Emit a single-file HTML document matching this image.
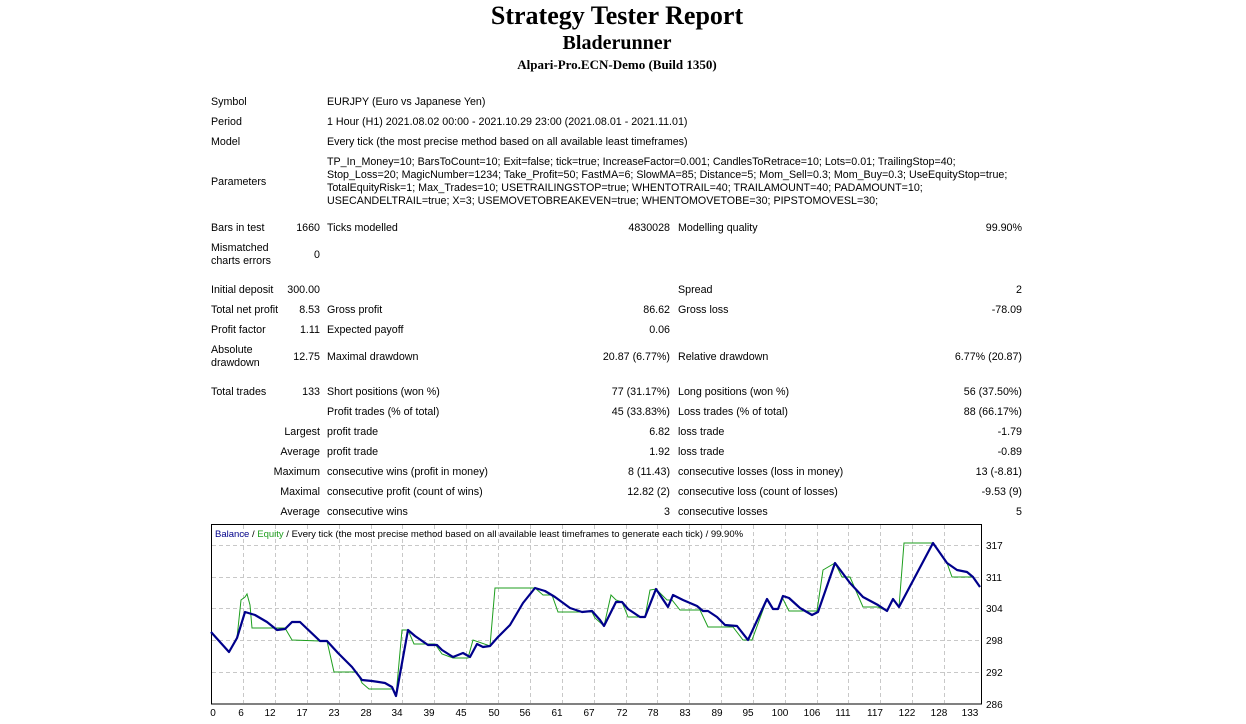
<!DOCTYPE html>
<html><head><meta charset="utf-8"><style>
body{margin:0;width:1246px;height:724px;background:#fff;position:relative;overflow:hidden;font-family:"Liberation Sans",sans-serif;font-size:10.7px;color:#000}
#w{position:absolute;left:0;top:2px;width:1246px;height:520px}
.t{position:absolute;white-space:nowrap;line-height:13px}
.r{position:absolute;white-space:nowrap;line-height:13px;text-align:right}
.h{position:absolute;left:0;width:1234px;text-align:center;font-family:"Liberation Serif",serif;font-weight:bold;white-space:nowrap}
</style></head><body>
<div class="h" style="top:1px;font-size:26px;line-height:30px">Strategy Tester Report</div>
<div class="h" style="top:32px;font-size:20px;line-height:22px">Bladerunner</div>
<div class="h" style="top:57px;font-size:13px;line-height:15px">Alpari-Pro.ECN-Demo (Build 1350)</div>
<div id="w">
<div class="t" style="left:211px;top:94px">Symbol</div>
<div class="t" style="left:327px;top:94px">EURJPY (Euro vs Japanese Yen)</div>
<div class="t" style="left:211px;top:114px">Period</div>
<div class="t" style="left:327px;top:114px">1 Hour (H1) 2021.08.02 00:00 - 2021.10.29 23:00 (2021.08.01 - 2021.11.01)</div>
<div class="t" style="left:211px;top:134px">Model</div>
<div class="t" style="left:327px;top:134px">Every tick (the most precise method based on all available least timeframes)</div>
<div class="t" style="left:211px;top:174px">Parameters</div>
<div class="t" style="left:327px;top:154px">TP_In_Money=10; BarsToCount=10; Exit=false; tick=true; IncreaseFactor=0.001; CandlesToRetrace=10; Lots=0.01; TrailingStop=40;</div>
<div class="t" style="left:327px;top:167px">Stop_Loss=20; MagicNumber=1234; Take_Profit=50; FastMA=6; SlowMA=85; Distance=5; Mom_Sell=0.3; Mom_Buy=0.3; UseEquityStop=true;</div>
<div class="t" style="left:327px;top:180px">TotalEquityRisk=1; Max_Trades=10; USETRAILINGSTOP=true; WHENTOTRAIL=40; TRAILAMOUNT=40; PADAMOUNT=10;</div>
<div class="t" style="left:327px;top:193px">USECANDELTRAIL=true; X=3; USEMOVETOBREAKEVEN=true; WHENTOMOVETOBE=30; PIPSTOMOVESL=30;</div>

<div class="t" style="left:211px;top:220px">Bars in test</div><div class="r" style="right:926px;top:220px">1660</div>
<div class="t" style="left:327px;top:220px">Ticks modelled</div><div class="r" style="right:576px;top:220px">4830028</div>
<div class="t" style="left:678px;top:220px">Modelling quality</div><div class="r" style="right:224px;top:220px">99.90%</div>

<div class="t" style="left:211px;top:240px">Mismatched<br>charts errors</div><div class="r" style="right:926px;top:247px">0</div>

<div class="t" style="left:211px;top:282px">Initial deposit</div><div class="r" style="right:926px;top:282px">300.00</div>
<div class="t" style="left:678px;top:282px">Spread</div><div class="r" style="right:224px;top:282px">2</div>

<div class="t" style="left:211px;top:302px">Total net profit</div><div class="r" style="right:926px;top:302px">8.53</div>
<div class="t" style="left:327px;top:302px">Gross profit</div><div class="r" style="right:576px;top:302px">86.62</div>
<div class="t" style="left:678px;top:302px">Gross loss</div><div class="r" style="right:224px;top:302px">-78.09</div>

<div class="t" style="left:211px;top:322px">Profit factor</div><div class="r" style="right:926px;top:322px">1.11</div>
<div class="t" style="left:327px;top:322px">Expected payoff</div><div class="r" style="right:576px;top:322px">0.06</div>

<div class="t" style="left:211px;top:342px">Absolute<br>drawdown</div><div class="r" style="right:926px;top:349px">12.75</div>
<div class="t" style="left:327px;top:349px">Maximal drawdown</div><div class="r" style="right:576px;top:349px">20.87 (6.77%)</div>
<div class="t" style="left:678px;top:349px">Relative drawdown</div><div class="r" style="right:224px;top:349px">6.77% (20.87)</div>

<div class="t" style="left:211px;top:384px">Total trades</div><div class="r" style="right:926px;top:384px">133</div>
<div class="t" style="left:327px;top:384px">Short positions (won %)</div><div class="r" style="right:576px;top:384px">77 (31.17%)</div>
<div class="t" style="left:678px;top:384px">Long positions (won %)</div><div class="r" style="right:224px;top:384px">56 (37.50%)</div>

<div class="t" style="left:327px;top:404px">Profit trades (% of total)</div><div class="r" style="right:576px;top:404px">45 (33.83%)</div>
<div class="t" style="left:678px;top:404px">Loss trades (% of total)</div><div class="r" style="right:224px;top:404px">88 (66.17%)</div>

<div class="r" style="right:926px;top:424px">Largest</div>
<div class="t" style="left:327px;top:424px">profit trade</div><div class="r" style="right:576px;top:424px">6.82</div>
<div class="t" style="left:678px;top:424px">loss trade</div><div class="r" style="right:224px;top:424px">-1.79</div>

<div class="r" style="right:926px;top:444px">Average</div>
<div class="t" style="left:327px;top:444px">profit trade</div><div class="r" style="right:576px;top:444px">1.92</div>
<div class="t" style="left:678px;top:444px">loss trade</div><div class="r" style="right:224px;top:444px">-0.89</div>

<div class="r" style="right:926px;top:464px">Maximum</div>
<div class="t" style="left:327px;top:464px">consecutive wins (profit in money)</div><div class="r" style="right:576px;top:464px">8 (11.43)</div>
<div class="t" style="left:678px;top:464px">consecutive losses (loss in money)</div><div class="r" style="right:224px;top:464px">13 (-8.81)</div>

<div class="r" style="right:926px;top:484px">Maximal</div>
<div class="t" style="left:327px;top:484px">consecutive profit (count of wins)</div><div class="r" style="right:576px;top:484px">12.82 (2)</div>
<div class="t" style="left:678px;top:484px">consecutive loss (count of losses)</div><div class="r" style="right:224px;top:484px">-9.53 (9)</div>

<div class="r" style="right:926px;top:504px">Average</div>
<div class="t" style="left:327px;top:504px">consecutive wins</div><div class="r" style="right:576px;top:504px">3</div>
<div class="t" style="left:678px;top:504px">consecutive losses</div><div class="r" style="right:224px;top:504px">5</div>
</div>

<svg style="position:absolute;left:0;top:0" width="1246" height="724">
<g stroke="#c8c8c8" stroke-dasharray="4,3" stroke-width="1">
<line x1="212" y1="545.5" x2="981" y2="545.5"/><line x1="212" y1="577.5" x2="981" y2="577.5"/><line x1="212" y1="608.5" x2="981" y2="608.5"/><line x1="212" y1="640.5" x2="981" y2="640.5"/><line x1="212" y1="672.5" x2="981" y2="672.5"/>
<line x1="243.5" y1="525" x2="243.5" y2="703"/><line x1="275.5" y1="525" x2="275.5" y2="703"/><line x1="307.5" y1="525" x2="307.5" y2="703"/><line x1="339.5" y1="525" x2="339.5" y2="703"/><line x1="371.5" y1="525" x2="371.5" y2="703"/><line x1="402.5" y1="525" x2="402.5" y2="703"/><line x1="434.5" y1="525" x2="434.5" y2="703"/><line x1="466.5" y1="525" x2="466.5" y2="703"/><line x1="498.5" y1="525" x2="498.5" y2="703"/><line x1="530.5" y1="525" x2="530.5" y2="703"/><line x1="562.5" y1="525" x2="562.5" y2="703"/><line x1="594.5" y1="525" x2="594.5" y2="703"/><line x1="626.5" y1="525" x2="626.5" y2="703"/><line x1="657.5" y1="525" x2="657.5" y2="703"/><line x1="689.5" y1="525" x2="689.5" y2="703"/><line x1="721.5" y1="525" x2="721.5" y2="703"/><line x1="753.5" y1="525" x2="753.5" y2="703"/><line x1="785.5" y1="525" x2="785.5" y2="703"/><line x1="817.5" y1="525" x2="817.5" y2="703"/><line x1="848.5" y1="525" x2="848.5" y2="703"/><line x1="880.5" y1="525" x2="880.5" y2="703"/><line x1="912.5" y1="525" x2="912.5" y2="703"/><line x1="944.5" y1="525" x2="944.5" y2="703"/>
</g>
<rect x="211.5" y="524.5" width="770" height="179.5" fill="none" stroke="#000" stroke-width="1"/>
<polyline fill="none" stroke="#1e9e1e" stroke-width="1" points="211,633 218,640 229,652 237,638 241,600 245,597 247,594 250,605 252,628 285,628 292,640 320,641 327,641 334,672 357,672 362,683 369,689 393,689 396,696 402,630 408,630 414,644 435,644 442,654 453,658 468,658 473,640 490,646 495,588 535,588 543,595 552,595 558,612 592,612 595,618 604,626 611,595 616,600 622,602 628,617 645,617 650,590 656,589 667,600 672,600 680,610 700,610 708,627 733,627 743,640 752,640 767,599 773,609 778,609 782,597 789,611 817,611 823,570 835,563 842,577 850,577 863,607 878,607 887,611 893,599 899,607 904,543 933,543 947,563 952,577 973,577 980,587"/>
<polyline fill="none" stroke="#00008b" stroke-width="2.2" stroke-linejoin="round" points="211,632 229,652 237,638 245,612 255,615 267,622 277,630 285,629 292,622 300,622 320,641 327,641 338,653 352,667 362,680 372,681 385,683 392,687 396,696 408,630 415,636 428,645 437,645 442,650 453,657 463,653 470,657 477,644 483,647 490,646 498,637 510,625 523,603 535,588 545,591 555,597 570,608 582,612 592,611 600,620 604,626 616,602 622,602 628,609 640,617 645,617 656,589 668,607 673,595 683,600 697,606 703,611 708,611 717,617 725,625 737,626 748,640 767,599 773,609 778,609 783,596 789,598 800,608 812,615 818,612 835,563 850,583 863,597 878,605 887,611 893,599 899,607 933,543 947,563 957,570 967,572 973,577 980,587"/>
<g font-family="Liberation Sans, sans-serif" font-size="10" fill="#000">
<text x="986" y="549">317</text><text x="986" y="581">311</text><text x="986" y="612">304</text><text x="986" y="644">298</text><text x="986" y="676">292</text><text x="986" y="708">286</text>
<g text-anchor="middle">
<text x="213" y="716">0</text><text x="241" y="716">6</text><text x="270" y="716">12</text><text x="302" y="716">17</text><text x="334" y="716">23</text><text x="366" y="716">28</text><text x="397" y="716">34</text><text x="429" y="716">39</text><text x="461" y="716">45</text><text x="494" y="716">50</text><text x="525" y="716">56</text><text x="557" y="716">61</text><text x="589" y="716">67</text><text x="622" y="716">72</text><text x="653" y="716">78</text><text x="685" y="716">83</text><text x="717" y="716">89</text><text x="748" y="716">95</text><text x="780" y="716">100</text><text x="812" y="716">106</text><text x="843" y="716">111</text><text x="875" y="716">117</text><text x="907" y="716">122</text><text x="939" y="716">128</text><text x="970" y="716">133</text>
</g>
<text x="215" y="537" font-size="9.5"><tspan fill="#00008b">Balance</tspan> / <tspan fill="#1e9e1e">Equity</tspan> / Every tick (the most precise method based on all available least timeframes to generate each tick) / 99.90%</text>
</g>
</svg>
</body></html>
